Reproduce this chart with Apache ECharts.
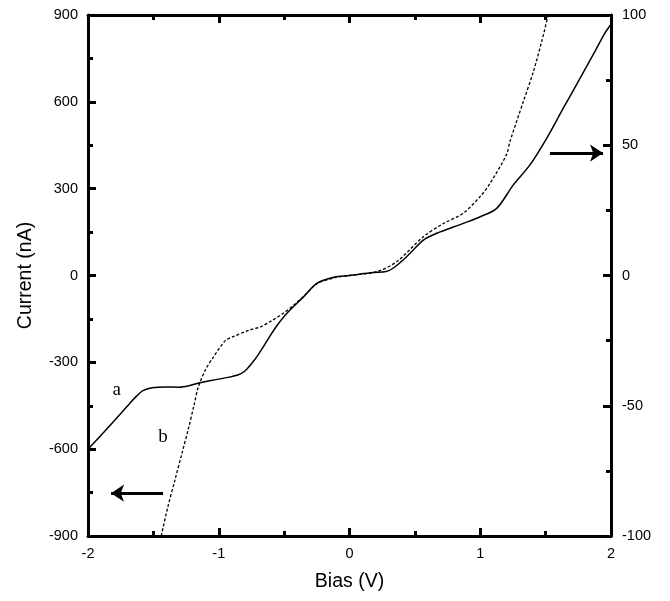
<!DOCTYPE html>
<html>
<head>
<meta charset="utf-8">
<script src="https://cdn.jsdelivr.net/npm/echarts@6/dist/echarts.min.js"></script>
<style>
html,body{margin:0;padding:0;background:#fff;}
#chart{width:670px;height:601px;}
</style>
</head>
<body>
<div id="chart"></div>
<script>
// Curve a (solid, left axis: Current nA)
const biasA = [-2.00,-1.90,-1.83,-1.70,-1.64,-1.58,-1.51,-1.40,-1.30,-1.22,-1.16,-1.05,-0.93,-0.85,-0.80,-0.75,-0.70,-0.65,-0.61,-0.55,-0.48,-0.35,-0.25,-0.12,0.00,0.18,0.28,0.333,0.437,0.565,0.667,0.87,1.00,1.126,1.253,1.38,1.508,1.635,1.763,1.89,1.95,2.00];
const currentA = [-600,-552,-517,-452,-422,-398,-388,-385,-386,-380,-372,-362,-352,-343,-330,-305,-275,-240,-210,-170,-131,-73,-27,-6,0,10,14,25,65,122,146,180,203,232,313,382,474,578,681,785,835,868];
// Curve b (dashed, right axis)
const biasB = [-1.44,-1.39,-1.335,-1.28,-1.233,-1.19,-1.156,-1.10,-1.05,-0.95,-0.89,-0.77,-0.68,-0.60,-0.506,-0.43,-0.353,-0.25,-0.12,0.00,0.208,0.361,0.565,0.72,0.87,1.011,1.075,1.20,1.227,1.329,1.406,1.47,1.52];
const currentB = [-100,-89,-78.5,-68,-59,-50,-42.7,-36,-32,-25,-23.5,-21,-19.7,-17.5,-14.5,-11.5,-8.1,-3.2,-0.9,0,1.5,5.3,14.9,20,23.9,31,35.4,46.3,51.4,66.7,78.2,89.8,100];
const xTicks = [-2,-1,0,1,2];
const leftTicks = [-900,-600,-300,0,300,600,900];
const rightTicks = [-100,-50,0,50,100];
const leftArrow = [[-1.426,-752],[-1.824,-752]];
const rightArrow = [[1.533,47],[1.939,47]];
const letterA = [-1.78,-396];
const letterB = [-1.426,-558];

const chart = echarts.init(document.getElementById('chart'));
const font = 'Liberation Sans, Arial, sans-serif';
const axisLineStyle = {show:true, onZero:false, lineStyle:{color:'#000', width:3}};
const tickStyle = {show:true, inside:true, length:8, lineStyle:{color:'#000', width:3}};
const minorStyle = {show:true, splitNumber:2, length:5, lineStyle:{color:'#000', width:3}};

chart.setOption({
  animation:false,
  backgroundColor:'#fff',
  grid:{left:88, right:59, top:15, bottom:65},
  xAxis:[{
    type:'value', min:xTicks[0], max:xTicks[xTicks.length-1], interval:1, position:'bottom',
    name:'Bias (V)', nameLocation:'middle', nameGap:36,
    nameTextStyle:{fontFamily:font, fontSize:19.5, color:'#000'},
    axisLine:axisLineStyle, axisTick:tickStyle, minorTick:minorStyle,
    axisLabel:{fontFamily:font, fontSize:14.5, color:'#000', margin:10},
    splitLine:{show:false}
  },{
    type:'value', min:xTicks[0], max:xTicks[xTicks.length-1], interval:1, position:'top',
    axisLine:axisLineStyle, axisTick:tickStyle, minorTick:minorStyle,
    axisLabel:{show:false}, splitLine:{show:false}
  }],
  yAxis:[{
    type:'value', min:leftTicks[0], max:leftTicks[leftTicks.length-1], interval:300, position:'left',
    name:'Current (nA)', nameLocation:'middle', nameGap:52, nameRotate:90,
    nameTextStyle:{fontFamily:font, fontSize:19.5, color:'#000'},
    axisLine:axisLineStyle, axisTick:tickStyle, minorTick:minorStyle,
    axisLabel:{fontFamily:font, fontSize:14.5, color:'#000', margin:10},
    splitLine:{show:false}
  },{
    type:'value', min:rightTicks[0], max:rightTicks[rightTicks.length-1], interval:50, position:'right',
    axisLine:axisLineStyle, axisTick:tickStyle, minorTick:minorStyle,
    axisLabel:{fontFamily:font, fontSize:14.5, color:'#000', margin:11},
    splitLine:{show:false}
  }],
  series:[{
    name:'a', type:'line', xAxisIndex:0, yAxisIndex:0, showSymbol:false, smooth:0.3,
    data: biasA.map((v,i)=>[v,currentA[i]]),
    lineStyle:{color:'#000', width:1.5},
    markLine:{silent:true, symbol:['none','arrow'], symbolSize:[13,13], label:{show:false},
      lineStyle:{color:'#000', width:3, type:'solid'},
      data:[[{coord:leftArrow[0]},{coord:leftArrow[1]}]]}
  },{
    name:'b', type:'line', xAxisIndex:0, yAxisIndex:1, showSymbol:false, smooth:0.3,
    data: biasB.map((v,i)=>[v,currentB[i]]),
    lineStyle:{color:'#000', width:1.3, type:[3,2]},
    markLine:{silent:true, symbol:['none','arrow'], symbolSize:[13,13], label:{show:false},
      lineStyle:{color:'#000', width:3, type:'solid'},
      data:[[{coord:rightArrow[0]},{coord:rightArrow[1]}]]}
  }]
});

const pa = chart.convertToPixel({xAxisIndex:0, yAxisIndex:0}, letterA);
const pb = chart.convertToPixel({xAxisIndex:0, yAxisIndex:0}, letterB);
chart.setOption({
  graphic:[
    {type:'text', x:pa[0], y:pa[1], style:{text:'a', font:'19px "Liberation Serif", "Times New Roman", serif', fill:'#000', textAlign:'center', textVerticalAlign:'middle'}},
    {type:'text', x:pb[0], y:pb[1], style:{text:'b', font:'19px "Liberation Serif", "Times New Roman", serif', fill:'#000', textAlign:'center', textVerticalAlign:'middle'}}
  ]
});
</script>
</body>
</html>
